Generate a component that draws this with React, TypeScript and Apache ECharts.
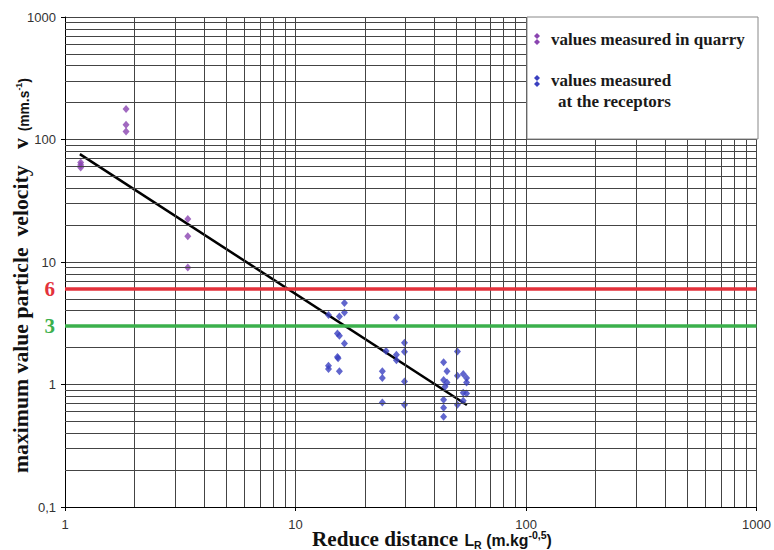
import React, { useEffect, useRef } from "react";
import * as echarts from "echarts";

const quarryX = [1.17, 1.17, 1.17, 1.84, 1.84, 1.84, 3.41, 3.41, 3.41];
const quarryY = [65, 62, 59, 177, 132, 116, 22.4, 16.2, 9.0];

const receptorX = [
  16.3, 13.9, 15.5, 16.3, 15.2, 15.5, 16.3, 15.2, 15.3, 13.9, 13.9, 15.5,
  27.4, 24.7, 27.4, 27.4, 29.7, 29.7, 23.8, 23.8, 29.7, 23.8, 29.7,
  50.4, 43.9, 45.4, 50.4, 53.4, 55.2, 55.2, 43.9, 45.4, 44.5, 53.4, 55.2,
  43.9, 53.4, 50.4, 43.9, 43.9,
];
const receptorY = [
  4.62, 3.69, 3.59, 3.87, 2.61, 2.5, 2.16, 1.68, 1.64, 1.42, 1.34, 1.28,
  3.52, 1.88, 1.75, 1.58, 2.19, 1.85, 1.28, 1.13, 1.06, 0.713, 0.683,
  1.86, 1.52, 1.28, 1.18, 1.22, 1.13, 1.04, 1.09, 1.04, 0.958, 0.856, 0.845,
  0.75, 0.736, 0.683, 0.645, 0.545,
];

const trendX = [1.16, 55.4];
const trendY = [76, 0.68];

const limitValues = [6, 3];
const limitLabels = ["6", "3"];
const limitColors = ["#e3313b", "#3bb04c"];

const xDecades = [1, 10, 100];
const yDecades = [0.1, 1, 10, 100];
const minorSteps = [2, 3, 4, 5, 6, 7, 8, 9];

const legendNames = ["values measured in quarry", "values measured", "at the receptors"];

const SERIF = "'Liberation Serif', 'Times New Roman', serif";
const SANS = "'Liberation Sans', Arial, sans-serif";
const PURPLE = "#8a44b0";
const BLUE = "#3a40c0";
const GRID = "#444";
const INK = "#111";

type Part = { t: string; size: number; fam: string; dy: number; gap?: number };

const yTitleParts: Part[] = [
  { t: "maximum value particle  velocity   v", size: 22, fam: SERIF, dy: 0 },
  { t: "(mm.s", size: 14, fam: SANS, dy: 0, gap: 7 },
  { t: "-1", size: 9, fam: SANS, dy: -6 },
  { t: ")", size: 14, fam: SANS, dy: 0 },
];
const xTitleParts: Part[] = [
  { t: "Reduce distance", size: 20, fam: SERIF, dy: 0 },
  { t: "L", size: 15, fam: SANS, dy: 0, gap: 6 },
  { t: "R", size: 10, fam: SANS, dy: 3 },
  { t: " (m.kg", size: 15, fam: SANS, dy: 0 },
  { t: "-0,5", size: 10, fam: SANS, dy: -7 },
  { t: ")", size: 15, fam: SANS, dy: 0 },
];

function fmtTick(v: number) {
  return v < 0.5 ? "0,1" : String(Math.round(v));
}

let measureCtx: CanvasRenderingContext2D | null = null;
function measure(text: string, font: string) {
  if (!measureCtx) measureCtx = document.createElement("canvas").getContext("2d");
  if (!measureCtx) return text.length * 8;
  measureCtx.font = font;
  return measureCtx.measureText(text).width;
}

// lay out parts along local x, baseline at local y = 0, fitted to target length
function layoutRow(parts: Part[], target: number, centered: boolean) {
  const fontOf = (p: Part, k: number) => `bold ${(p.size * k).toFixed(2)}px ${p.fam}`;
  let total = 0;
  parts.forEach((p) => (total += (p.gap || 0) + measure(p.t, fontOf(p, 1))));
  const k = target / total;
  let x = centered ? -target / 2 : 0;
  const els: any[] = [];
  parts.forEach((p) => {
    x += (p.gap || 0) * k;
    const size = p.size * k;
    els.push({
      type: "text",
      x,
      y: p.dy * k - 0.32 * size,
      style: { text: p.t, font: fontOf(p, k), fill: INK, verticalAlign: "middle", align: "left" },
    });
    x += measure(p.t, fontOf(p, k));
  });
  return els;
}

function diamonds(cx: number, cy: number, color: string) {
  const w = 3;
  const h = 3;
  return [cy - 3, cy + 3].map((y) => ({
    type: "polygon",
    z: 11,
    shape: { points: [[cx, y - h], [cx + w, y], [cx, y + h], [cx - w, y]] },
    style: { fill: color },
  }));
}

export default function App() {
  const ref = useRef<HTMLDivElement>(null);
  useEffect(() => {
    if (!ref.current) return;
    const chart = echarts.init(ref.current, null, { renderer: "svg" });

    const minorX: any[] = [];
    xDecades.forEach((d) => minorSteps.forEach((k) => minorX.push({ xAxis: d * k })));
    const minorY: any[] = [];
    yDecades.forEach((d) => minorSteps.forEach((k) => minorY.push({ yAxis: d * k })));

    const axisCommon = {
      type: "log",
      logBase: 10,
      axisLine: { show: true, lineStyle: { color: "#000", width: 1 } },
      axisTick: { show: true, length: 4, lineStyle: { color: "#000" } },
      splitLine: { show: true, lineStyle: { color: GRID, width: 1 } },
      minorTick: { show: false },
      axisLabel: { color: "#333", fontFamily: SANS, fontSize: 13, formatter: fmtTick },
    };

    chart.setOption({
      animation: false,
      backgroundColor: "#fff",
      grid: { left: 65, right: 16, top: 17, bottom: 43, containLabel: false },
      xAxis: {
        ...axisCommon,
        min: 1,
        max: 1000,
        axisLabel: { ...axisCommon.axisLabel, margin: 11 },
      },
      yAxis: {
        ...axisCommon,
        min: 0.1,
        max: 1000,
        axisLabel: { ...axisCommon.axisLabel, margin: 9 },
      },
      series: [
        {
          name: "minor grid",
          type: "line",
          data: [],
          z: 1,
          silent: true,
          markLine: {
            silent: true,
            symbol: ["none", "none"],
            label: { show: false },
            lineStyle: { color: GRID, width: 1, type: "solid" },
            data: [...minorX, ...minorY],
          },
        },
        {
          name: "limits",
          type: "line",
          data: [],
          z: 2,
          silent: true,
          markLine: {
            silent: true,
            symbol: ["none", "none"],
            data: limitValues.map((v, i) => ({
              yAxis: v,
              lineStyle: { color: limitColors[i], width: 3.5, type: "solid" },
              label: {
                show: true,
                position: "start",
                distance: 10,
                formatter: limitLabels[i],
                color: limitColors[i],
                fontFamily: SERIF,
                fontWeight: "bold",
                fontSize: 21,
              },
            })),
          },
        },
        {
          name: "trend",
          type: "line",
          z: 3,
          symbol: "none",
          lineStyle: { color: "#000", width: 2.5 },
          data: trendX.map((x, i) => [x, trendY[i]]),
        },
        {
          name: legendNames[0],
          type: "scatter",
          z: 4,
          symbol: "diamond",
          symbolSize: [7, 8],
          itemStyle: { color: PURPLE },
          data: quarryX.map((x, i) => [x, quarryY[i]]),
        },
        {
          name: legendNames[1] + " " + legendNames[2],
          type: "scatter",
          z: 4,
          symbol: "diamond",
          symbolSize: [7, 8],
          itemStyle: { color: BLUE },
          data: receptorX.map((x, i) => [x, receptorY[i]]),
        },
      ],
      graphic: [
        {
          type: "rect",
          z: 10,
          shape: { x: 527, y: 17, width: 231, height: 122 },
          style: { fill: "#fff", stroke: "#888", lineWidth: 1 },
        },
        ...diamonds(537, 39, PURPLE),
        ...diamonds(537, 81, BLUE),
        {
          type: "text",
          z: 11,
          x: 551,
          y: 39,
          style: { text: legendNames[0], fill: "#1a1a1a", font: `bold 17px ${SERIF}`, verticalAlign: "middle" },
        },
        {
          type: "text",
          z: 11,
          x: 551,
          y: 80,
          style: { text: legendNames[1], fill: "#1a1a1a", font: `bold 17px ${SERIF}`, verticalAlign: "middle" },
        },
        {
          type: "text",
          z: 11,
          x: 558,
          y: 101,
          style: { text: legendNames[2], fill: "#1a1a1a", font: `bold 17px ${SERIF}`, verticalAlign: "middle" },
        },
        {
          type: "group",
          z: 11,
          x: 28,
          y: 275.5,
          rotation: Math.PI / 2,
          children: layoutRow(yTitleParts, 395, true),
        },
        {
          type: "group",
          z: 11,
          x: 312,
          y: 545.5,
          children: layoutRow(xTitleParts, 240, false),
        },
      ],
    });
    return () => chart.dispose();
  }, []);
  return <div ref={ref} style={{ width: 774, height: 550, position: "absolute", left: 0, top: 0 }} />;
}
